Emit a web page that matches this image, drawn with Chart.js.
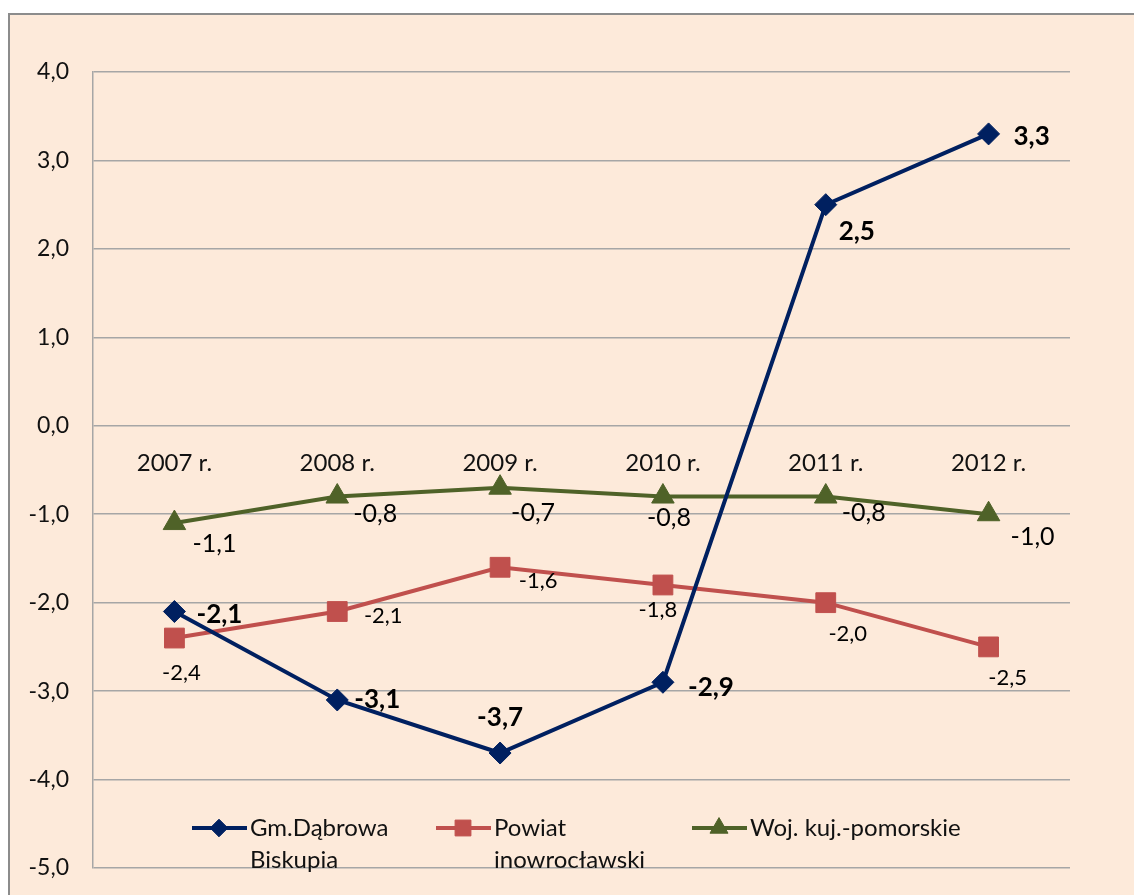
<!DOCTYPE html>
<html>
<head>
<meta charset="utf-8">
<script src="https://cdn.jsdelivr.net/npm/chart.js@4"></script>
<style>
  html, body { margin: 0; padding: 0; background: #fff; }
  canvas { display: block; }
</style>
</head>
<body>
<canvas id="chart" width="1134" height="895"></canvas>
<script>
const years = ['2007 r.', '2008 r.', '2009 r.', '2010 r.', '2011 r.', '2012 r.'];
const gminaValues = [-2.1, -3.1, -3.7, -2.9, 2.5, 3.3];
const powiatValues = [-2.4, -2.1, -1.6, -1.8, -2.0, -2.5];
const wojValues = [-1.1, -0.8, -0.7, -0.8, -0.8, -1.0];
const seriesNames = [['Gm.Dąbrowa', 'Biskupia'], ['Powiat', 'inowrocławski'], ['Woj. kuj.-pomorskie']];

// where each value label sits relative to its point
const gminaLabelOffsets = [[45, 3], [40, 0], [0, -35], [48, 5], [31, 27], [43, 3]];
const powiatLabelOffsets = [[7, 35], [46, 4], [38, 14], [-5, 25], [22, 31], [19, 31]];
const wojLabelOffsets = [[40, 21], [38, 17], [33, 25], [6, 21], [38, 16], [44, 23]];

const FONT = 'Lato, "Open Sans", sans-serif';
const fmt = v => v.toFixed(1).replace('.', ',');

const labelStyles = [
    { offsets: gminaLabelOffsets, font: 'bold 26px ' + FONT },
    { offsets: powiatLabelOffsets, font: '22px ' + FONT },
    { offsets: wojLabelOffsets, font: '25px ' + FONT }
];

const backgroundPlugin = {
    id: 'frame',
    beforeDraw(chart) {
        const ctx = chart.ctx;
        ctx.save();
        ctx.fillStyle = '#ffffff';
        ctx.fillRect(0, 0, chart.width, chart.height);
        ctx.fillStyle = '#FDEADA';
        ctx.fillRect(8, 13, chart.width, chart.height);
        ctx.strokeStyle = '#8c8c8c';
        ctx.lineWidth = 2;
        ctx.strokeRect(9, 14, chart.width + 10, chart.height + 10);
        ctx.restore();
    }
};

const categoryLabelsPlugin = {
    id: 'categoryLabels',
    afterDraw(chart) {
        const ctx = chart.ctx;
        const x = chart.scales.x;
        const y0 = chart.scales.y.getPixelForValue(0);
        ctx.save();
        ctx.font = '24px ' + FONT;
        ctx.fillStyle = '#111';
        ctx.textAlign = 'center';
        ctx.textBaseline = 'middle';
        years.forEach((label, i) => {
            ctx.fillText(label, x.getPixelForValue(i), y0 + 37);
        });
        ctx.restore();
    }
};

const valueLabelsPlugin = {
    id: 'valueLabels',
    afterDatasetsDraw(chart) {
        const ctx = chart.ctx;
        ctx.save();
        ctx.fillStyle = '#000';
        ctx.textAlign = 'center';
        ctx.textBaseline = 'middle';
        chart.data.datasets.forEach((ds, di) => {
            const meta = chart.getDatasetMeta(di);
            const style = labelStyles[di];
            ctx.font = style.font;
            meta.data.forEach((pt, i) => {
                const off = style.offsets[i];
                ctx.fillText(fmt(ds.data[i]), pt.x + off[0], pt.y + off[1]);
            });
        });
        ctx.restore();
    }
};

const legendPlugin = {
    id: 'customLegend',
    afterDraw(chart) {
        const ctx = chart.ctx;
        const itemX = [192, 436, 692];
        const lineY = 828;
        ctx.save();
        chart.data.datasets.forEach((ds, di) => {
            const x = itemX[di];
            ctx.strokeStyle = ds.borderColor;
            ctx.fillStyle = ds.borderColor;
            ctx.lineWidth = 4;
            ctx.beginPath();
            ctx.moveTo(x, lineY);
            ctx.lineTo(x + 55, lineY);
            ctx.stroke();
            ctx.lineWidth = 1;
            Chart.helpers.drawPoint(ctx, {
                pointStyle: ds.pointStyle,
                radius: ds.pointRadius * 0.8,
                borderWidth: 1
            }, x + 27, lineY);
            ctx.fillStyle = '#111';
            ctx.font = '24px ' + FONT;
            ctx.textAlign = 'left';
            ctx.textBaseline = 'middle';
            seriesNames[di].forEach((line, li) => {
                ctx.fillText(line, x + 58, lineY + li * 32);
            });
        });
        ctx.restore();
    }
};

function makeSeries(label, data, color, style, radius) {
    return {
        label: label,
        data: data,
        borderColor: color,
        backgroundColor: color,
        borderWidth: 4,
        pointStyle: style,
        pointRadius: radius,
        pointHoverRadius: radius,
        pointBorderWidth: 1,
        tension: 0
    };
}

new Chart(document.getElementById('chart'), {
    type: 'line',
    data: {
        labels: years,
        datasets: [
            makeSeries(seriesNames[0].join(' '), gminaValues, '#002060', 'rectRot', 11),
            makeSeries(seriesNames[1].join(' '), powiatValues, '#C0504D', 'rect', 14),
            makeSeries(seriesNames[2][0], wojValues, '#4F6228', 'triangle', 13)
        ]
    },
    options: {
        responsive: false,
        animation: false,
        layout: { padding: { left: 8, top: 72, right: 64, bottom: 27 } },
        plugins: {
            legend: { display: false },
            tooltip: { enabled: false }
        },
        scales: {
            x: {
                display: false,
                offset: true
            },
            y: {
                min: -5,
                max: 4,
                afterFit(scale) {
                    scale.width = 85;
                    scale.paddingTop = 0;
                    scale.paddingBottom = 0;
                },
                ticks: {
                    stepSize: 1,
                    padding: 24,
                    color: '#111',
                    font: { family: FONT, size: 23 },
                    callback: v => fmt(v)
                },
                grid: {
                    color: '#A6A6A6',
                    lineWidth: 1.5,
                    drawTicks: false
                },
                border: { color: '#A6A6A6', width: 1.5 }
            }
        }
    },
    plugins: [backgroundPlugin, categoryLabelsPlugin, valueLabelsPlugin, legendPlugin]
});
</script>
</body>
</html>
